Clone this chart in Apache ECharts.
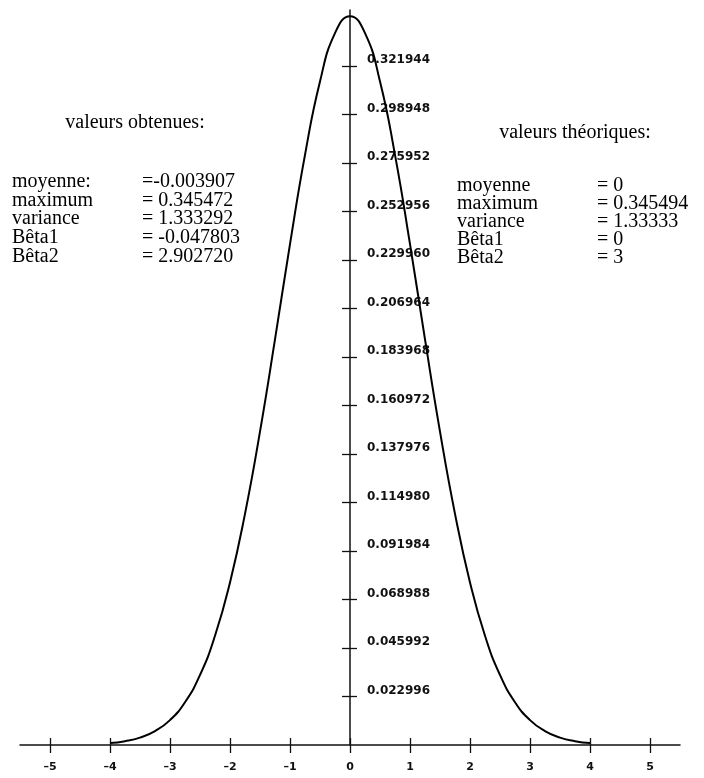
<!DOCTYPE html>
<html>
<head>
<meta charset="utf-8">
<script src="https://cdn.jsdelivr.net/npm/echarts@6/dist/echarts.min.js"></script>
<style>
html, body {margin: 0; padding: 0; background: #fff;}
#chart {width: 704px; height: 778px;}
</style>
</head>
<body>
<div id="chart"></div>
<script>
// courbe
var curveX = [-4, -3.75, -3.5, -3.25, -3, -2.75, -2.5, -2.25, -2, -1.75, -1.5, -1.25, -1, -0.75, -0.5, -0.25, 0,
    0.25, 0.5, 0.75, 1, 1.25, 1.5, 1.75, 2, 2.25, 2.5, 2.75, 3, 3.25, 3.5, 3.75, 4];
var curveY = [0.0009, 0.0018, 0.0035, 0.0066, 0.0118, 0.0203, 0.0332, 0.0518, 0.0771, 0.1096, 0.1486, 0.1923, 0.2375, 0.2798, 0.3146, 0.3375, 0.3455,
    0.3375, 0.3146, 0.2798, 0.2375, 0.1923, 0.1486, 0.1096, 0.0771, 0.0518, 0.0332, 0.0203, 0.0118, 0.0066, 0.0035, 0.0018, 0.0009];

var xTicks = [-5, -4, -3, -2, -1, 0, 1, 2, 3, 4, 5];
var yTicks = [0.022996, 0.045992, 0.068988, 0.091984, 0.114980, 0.137976, 0.160972,
    0.183968, 0.206964, 0.229960, 0.252956, 0.275952, 0.298948, 0.321944];

var leftTitle = 'valeurs obtenues:';
var leftNames = ['moyenne:', 'maximum', 'variance', 'Bêta1', 'Bêta2'];
var leftValues = ['=-0.003907', '= 0.345472', '= 1.333292', '= -0.047803', '= 2.902720'];

var rightTitle = 'valeurs théoriques:';
var rightNames = ['moyenne', 'maximum', 'variance', 'Bêta1', 'Bêta2'];
var rightValues = ['= 0', '= 0.345494', '= 1.33333', '= 0', '= 3'];

var serifFont = '20px "Liberation Serif", "Times New Roman", serif';

function statBlock(title, names, values, titleX, titleY, nameX, valueX, rowY, step) {
    var items = [{
        type: 'text', x: titleX, y: titleY,
        style: {text: title, font: serifFont, fill: '#000', align: 'center', verticalAlign: 'middle'}
    }];
    for (var i = 0; i < names.length; i++) {
        items.push({
            type: 'text', x: nameX, y: rowY + i * step,
            style: {text: names[i], font: serifFont, fill: '#000', align: 'left', verticalAlign: 'middle'}
        });
        items.push({
            type: 'text', x: valueX, y: rowY + i * step,
            style: {text: values[i], font: serifFont, fill: '#000', align: 'left', verticalAlign: 'middle'}
        });
    }
    return items;
}

function xLabel(v) {
    return v < 0 ? '\u2013' + Math.abs(v) : String(v);
}

var chart = echarts.init(document.getElementById('chart'));
var data = [];
for (var i = 0; i < curveX.length; i++) {
    data.push([curveX[i], curveY[i]]);
}

var axisFont = {fontFamily: '"DejaVu Sans", sans-serif', fontWeight: 'bold', color: '#111'};
var tickStyle = {color: '#111', width: 1.3};

var option = {
    animation: false,
    backgroundColor: '#fff',
    grid: {left: 20, right: 24, top: 10, bottom: 33, outerBoundsMode: 'none', containLabel: false},
    xAxis: [{
        type: 'value', min: -5.5, max: 5.5, position: 'bottom',
        splitLine: {show: false},
        axisLine: {onZero: false, lineStyle: {color: '#111', width: 1.5}},
        axisTick: {inside: false, length: 8, customValues: xTicks, lineStyle: tickStyle},
        axisLabel: Object.assign({customValues: xTicks, margin: 17, fontSize: 11, formatter: xLabel}, axisFont)
    }, {
        // demi-traits au-dessus de l'axe
        type: 'value', min: -5.5, max: 5.5, position: 'bottom',
        splitLine: {show: false},
        axisLine: {show: false, onZero: false},
        axisTick: {inside: true, length: 7, customValues: xTicks, lineStyle: tickStyle},
        axisLabel: {show: false}
    }],
    yAxis: [{
        // axe vertical placé en x = 0 (330 px à droite du bord gauche)
        type: 'value', min: 0, max: 0.3485, position: 'left', offset: -330,
        splitLine: {show: false},
        axisLine: {onZero: false, lineStyle: {color: '#111', width: 1.5}},
        axisTick: {inside: true, length: 7, customValues: yTicks, lineStyle: tickStyle},
        axisLabel: Object.assign({
            inside: true, customValues: yTicks, margin: 17, fontSize: 12, verticalAlign: 'bottom',
            formatter: function (v) { return v.toFixed(6); }
        }, axisFont)
    }, {
        type: 'value', min: 0, max: 0.3485, position: 'left', offset: -330,
        splitLine: {show: false},
        axisLine: {show: false, onZero: false},
        axisTick: {inside: false, length: 8, customValues: yTicks, lineStyle: tickStyle},
        axisLabel: {show: false}
    }],
    graphic: statBlock(leftTitle, leftNames, leftValues, 135, 123, 12, 142, 182, 18.6)
        .concat(statBlock(rightTitle, rightNames, rightValues, 575, 133, 457, 597, 186, 18)),
    series: [{
        type: 'line',
        data: data,
        xAxisIndex: 0,
        yAxisIndex: 0,
        smooth: true,
        showSymbol: false,
        lineStyle: {color: '#000', width: 2},
        z: 5
    }]
};
chart.setOption(option);
</script>
</body>
</html>
